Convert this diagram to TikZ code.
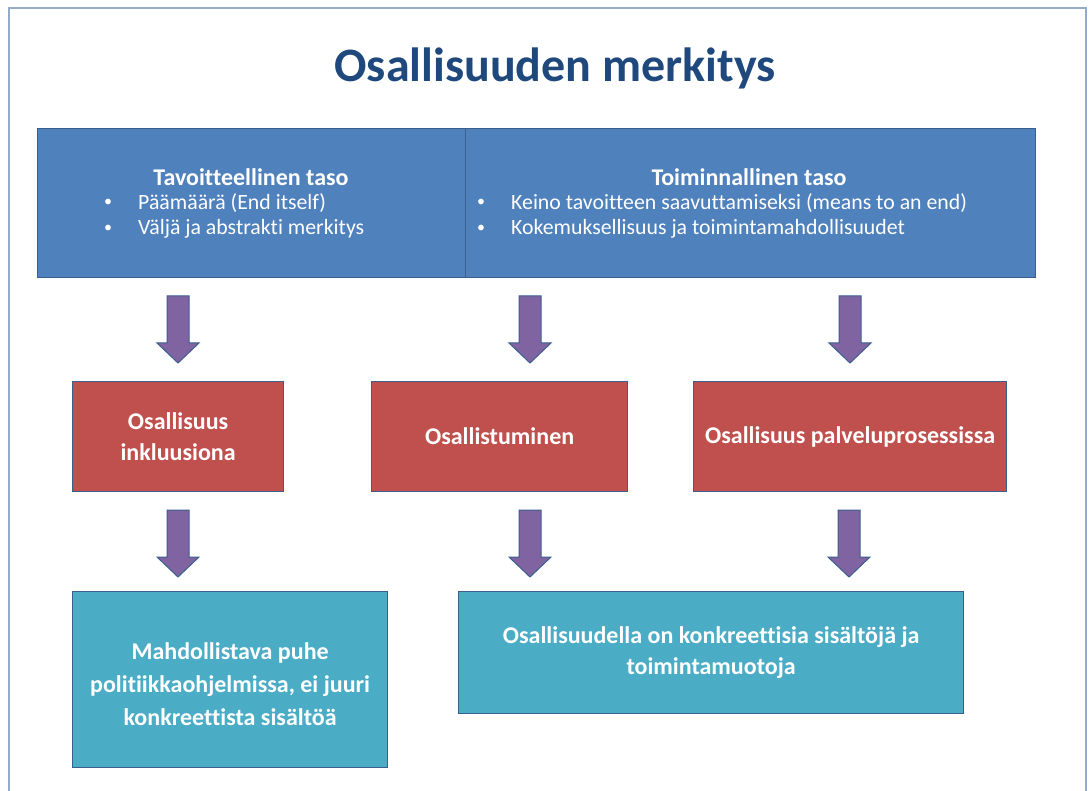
\documentclass[tikz,border=0pt]{standalone}
\usepackage{fontspec}
\setmainfont{Carlito}[Ligatures={NoCommon,NoRequired,NoContextual}]
\usetikzlibrary{calc}
\definecolor{titleblue}{HTML}{1F497D}
\definecolor{topblue}{HTML}{4F81BD}
\definecolor{boxborder}{HTML}{3A5F8E}
\definecolor{redbox}{HTML}{C0504D}
\definecolor{tealbox}{HTML}{4BACC6}
\definecolor{purplearrow}{HTML}{8064A2}
\definecolor{framecol}{HTML}{95A9C9}
\tikzset{
  box/.style={draw=boxborder, line width=1.2pt, anchor=north west, inner sep=0pt, text=white,
    align=center, font=\fontsize{24}{31}\selectfont\bfseries},
  topbox/.style={box, fill=topblue, minimum height=149pt},
  redstyle/.style={box, fill=redbox, minimum height=110pt},
  tealstyle/.style={box, fill=tealbox},
  boxtext/.style={text=white, align=center, inner sep=0pt, font=\fontsize{24}{33}\selectfont\bfseries},
  heading/.style={text=white, font=\fontsize{24}{29}\selectfont\bfseries, inner sep=0pt},
  bullettext/.style={text=white, font=\fontsize{21.8}{26}\selectfont, inner sep=0pt, anchor=west},
  bulletdot/.style={text=white, font=\fontsize{16}{20}\selectfont, inner sep=0pt},
  arrowshape/.style={fill=purplearrow, draw=boxborder, line width=1pt, line join=miter},
  pics/downarrow/.style={code={
    \draw[arrowshape] (-11,0) -- (11,0) -- (11,47) -- (21,47) -- (0,67) -- (-21,47) -- (-11,47) -- cycle;
  }}
}
\begin{document}
\begin{tikzpicture}[x=1pt,y=-1pt]
\useasboundingbox (0,0) rectangle (1089,791);
\fill[white] (0,0) rectangle (1089,791);
\draw[framecol, line width=2pt] (9,791) -- (9,8) -- (1086,8) -- (1086,791);

\node[text=titleblue, font=\fontsize{48}{56}\selectfont\bfseries, inner sep=0pt] (title) at (555,68) {Osallisuuden merkitys};

% top boxes
\node[topbox, minimum width=428pt] (tl) at (37,128) {};
\node[topbox, minimum width=570pt] (tr) at (465,128) {};

\node[heading] (tlh) at (251,177) {Tavoitteellinen taso};
\node[bulletdot] (tlb1) at (108,203) {•};
\node[bullettext] (tlt1) at (138,203) {Päämäärä (End itself)};
\node[bulletdot] (tlb2) at (108,229) {•};
\node[bullettext] (tlt2) at (138,229) {Väljä ja abstrakti merkitys};

\node[heading] (trh) at (749,177) {Toiminnallinen taso};
\node[bulletdot] (trb1) at (481,203) {•};
\node[bullettext] (trt1) at (511,203) {Keino tavoitteen saavuttamiseksi (means to an end)};
\node[bulletdot] (trb2) at (481,229) {•};
\node[bullettext] (trt2) at (511,229) {Kokemuksellisuus ja toimintamahdollisuudet};

% red boxes
\node[redstyle, minimum width=211pt] (r1) at (72,381) {Osallisuus\\inkluusiona};
\node[redstyle, minimum width=256pt] (r2) at (371,381) {Osallistuminen};
\node[redstyle, minimum width=313pt] (r3) at (693,381) {Osallisuus palveluprosessissa};

% teal boxes
\node[tealstyle, minimum width=315pt, minimum height=176pt] (t1) at (72,591) {};
\node[boxtext] (t1text) at ($(t1.center)+(0,5)$) {Mahdollistava puhe\\politiikkaohjelmissa, ei juuri\\konkreettista sisältöä};
\node[tealstyle, minimum width=505pt, minimum height=122pt] (t2) at (458,591) {Osallisuudella on konkreettisia sisältöjä ja\\toimintamuotoja};

% arrows
\pic (a1) at (178,296) {downarrow};
\pic (a2) at (530,296) {downarrow};
\pic (a3) at (850,296) {downarrow};
\pic (a4) at (178,510) {downarrow};
\pic (a5) at (530,510) {downarrow};
\pic (a6) at (849,510) {downarrow};
\end{tikzpicture}
\end{document}
